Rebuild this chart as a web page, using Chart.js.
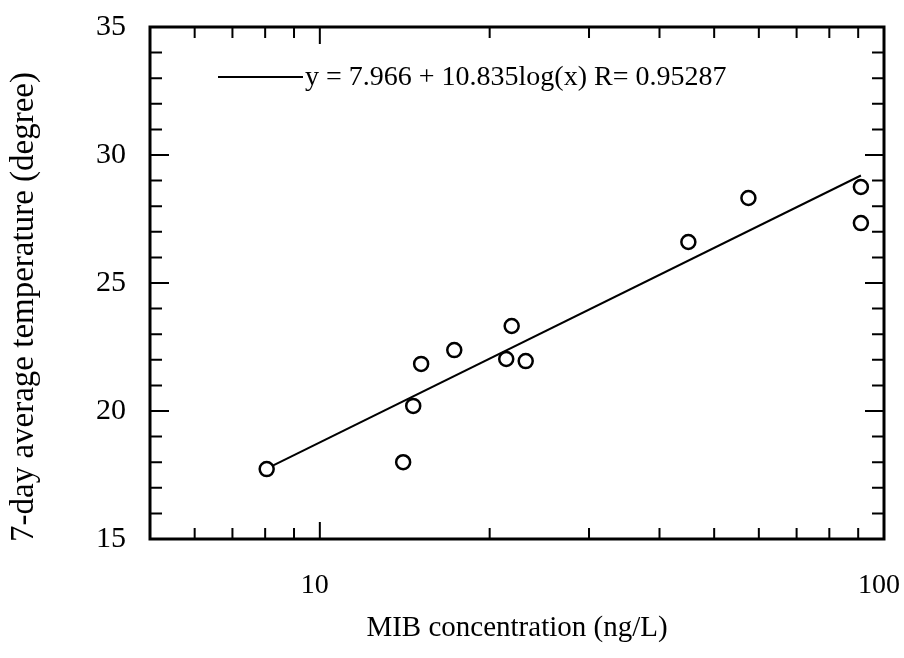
<!DOCTYPE html>
<html>
<head>
<meta charset="utf-8">
<script src="https://cdn.jsdelivr.net/npm/chart.js@4.4.1/dist/chart.umd.min.js"></script>
<style>
  html, body { margin: 0; padding: 0; background: #fff; }
  #wrap { width: 904px; height: 658px; }
</style>
</head>
<body>
<div id="wrap"><canvas id="chart" width="904" height="658"></canvas></div>
<script>
// datos
const mibConc = [8.05, 14.05, 14.64, 15.12, 17.31, 21.4, 21.88, 23.17, 45.0, 57.5, 91.0, 91.0];
const avgTemp = [17.73, 18.0, 20.2, 21.84, 22.38, 22.03, 23.32, 21.95, 26.6, 28.32, 28.75, 27.34];

// recta de ajuste (extremos)
const fitX = [8.05, 91.0];
const fitY = [17.75, 29.2];
const fitLabel = 'y = 7.966 + 10.835log(x) R= 0.95287';

// ticks
const xLabeled = [10, 100];
const xMinor = [6, 7, 8, 9, 20, 30, 40, 50, 60, 70, 80, 90];
const yMajor = [15, 20, 25, 30, 35];
const yMinor = [16, 17, 18, 19, 21, 22, 23, 24, 26, 27, 28, 29, 31, 32, 33, 34];

const xTitle = 'MIB concentration (ng/L)';
const yTitle = '7-day average temperature (degree)';

const FONT = "'Liberation Serif', 'Times New Roman', serif";

// marco + ticks hacia adentro (arriba/abajo, izquierda/derecha)
const frameTicks = {
    id: 'frameTicks',
    afterDatasetsDraw(chart) {
        const { ctx, chartArea: a, scales: { x, y } } = chart;
        ctx.save();
        ctx.strokeStyle = '#000';
        ctx.lineCap = 'butt';

        ctx.lineWidth = 2;
        const tickX = (v, len) => {
            const px = x.getPixelForValue(v);
            ctx.beginPath();
            ctx.moveTo(px, a.bottom); ctx.lineTo(px, a.bottom - len);
            ctx.moveTo(px, a.top); ctx.lineTo(px, a.top + len);
            ctx.stroke();
        };
        const tickY = (v, len) => {
            const py = y.getPixelForValue(v);
            ctx.beginPath();
            ctx.moveTo(a.left, py); ctx.lineTo(a.left + len, py);
            ctx.moveTo(a.right, py); ctx.lineTo(a.right - len, py);
            ctx.stroke();
        };
        xLabeled.forEach(v => tickX(v, 17));
        xMinor.forEach(v => tickX(v, 11));
        yMajor.forEach(v => tickY(v, 19));
        yMinor.forEach(v => tickY(v, 12));

        ctx.lineWidth = 3;
        ctx.strokeRect(a.left, a.top, a.right - a.left, a.bottom - a.top);
        ctx.restore();
    }
};

// leyenda dentro del area + titulo del eje y (un poco bajado como en el original)
const innerLegend = {
    id: 'innerLegend',
    afterDraw(chart) {
        const { ctx, chartArea: a } = chart;
        const ly = a.top + 50;
        ctx.save();
        ctx.strokeStyle = '#000';
        ctx.lineWidth = 2;
        ctx.beginPath();
        ctx.moveTo(a.left + 68, ly);
        ctx.lineTo(a.left + 153, ly);
        ctx.stroke();
        ctx.fillStyle = '#000';
        ctx.font = '28px ' + FONT;
        ctx.textBaseline = 'middle';
        ctx.fillText(fitLabel, a.left + 155, ly + 1);

        ctx.font = '33px ' + FONT;
        ctx.textAlign = 'center';
        ctx.translate(24, (a.top + a.bottom) / 2 + 24);
        ctx.rotate(-Math.PI / 2);
        ctx.fillText(yTitle, 0, 0);
        ctx.restore();
    }
};

new Chart(document.getElementById('chart'), {
    type: 'scatter',
    data: {
        datasets: [
            {
                label: 'datos',
                data: mibConc.map((v, i) => ({ x: v, y: avgTemp[i] })),
                pointStyle: 'circle',
                pointRadius: 7,
                pointBorderWidth: 2.5,
                pointBorderColor: '#000',
                pointBackgroundColor: '#fff',
                order: 1
            },
            {
                label: fitLabel,
                type: 'line',
                data: fitX.map((v, i) => ({ x: v, y: fitY[i] })),
                borderColor: '#000',
                borderWidth: 2,
                pointRadius: 0,
                showLine: true,
                order: 2
            }
        ]
    },
    options: {
        responsive: false,
        animation: false,
        layout: { padding: { top: 27, right: 20, left: 0, bottom: 0 } },
        plugins: { legend: { display: false }, tooltip: { enabled: false } },
        scales: {
            x: {
                type: 'logarithmic',
                min: 5,
                max: 100,
                grid: { display: false, drawTicks: false },
                border: { display: false },
                ticks: {
                    autoSkip: false,
                    maxRotation: 0,
                    padding: 30,
                    labelOffset: -5,
                    color: '#000',
                    font: { family: FONT, size: 28 },
                    callback: (v) => xLabeled.some(t => Math.abs(t - v) < 1e-6) ? String(v) : ''
                },
                title: {
                    display: true,
                    text: xTitle,
                    color: '#000',
                    font: { family: FONT, size: 29 },
                    padding: { top: 0, bottom: 12 }
                },
                afterFit: (s) => { s.height = 119; s.paddingLeft = 0; s.paddingRight = 0; }
            },
            y: {
                min: 15,
                max: 35,
                grid: { display: false, drawTicks: false },
                border: { display: false },
                ticks: {
                    stepSize: 5,
                    padding: 24,
                    color: '#000',
                    font: { family: FONT, size: 30 }
                },
                title: { display: false },
                afterFit: (s) => { s.width = 150; s.paddingTop = 0; s.paddingBottom = 0; }
            }
        }
    },
    plugins: [frameTicks, innerLegend]
});
</script>
</body>
</html>
